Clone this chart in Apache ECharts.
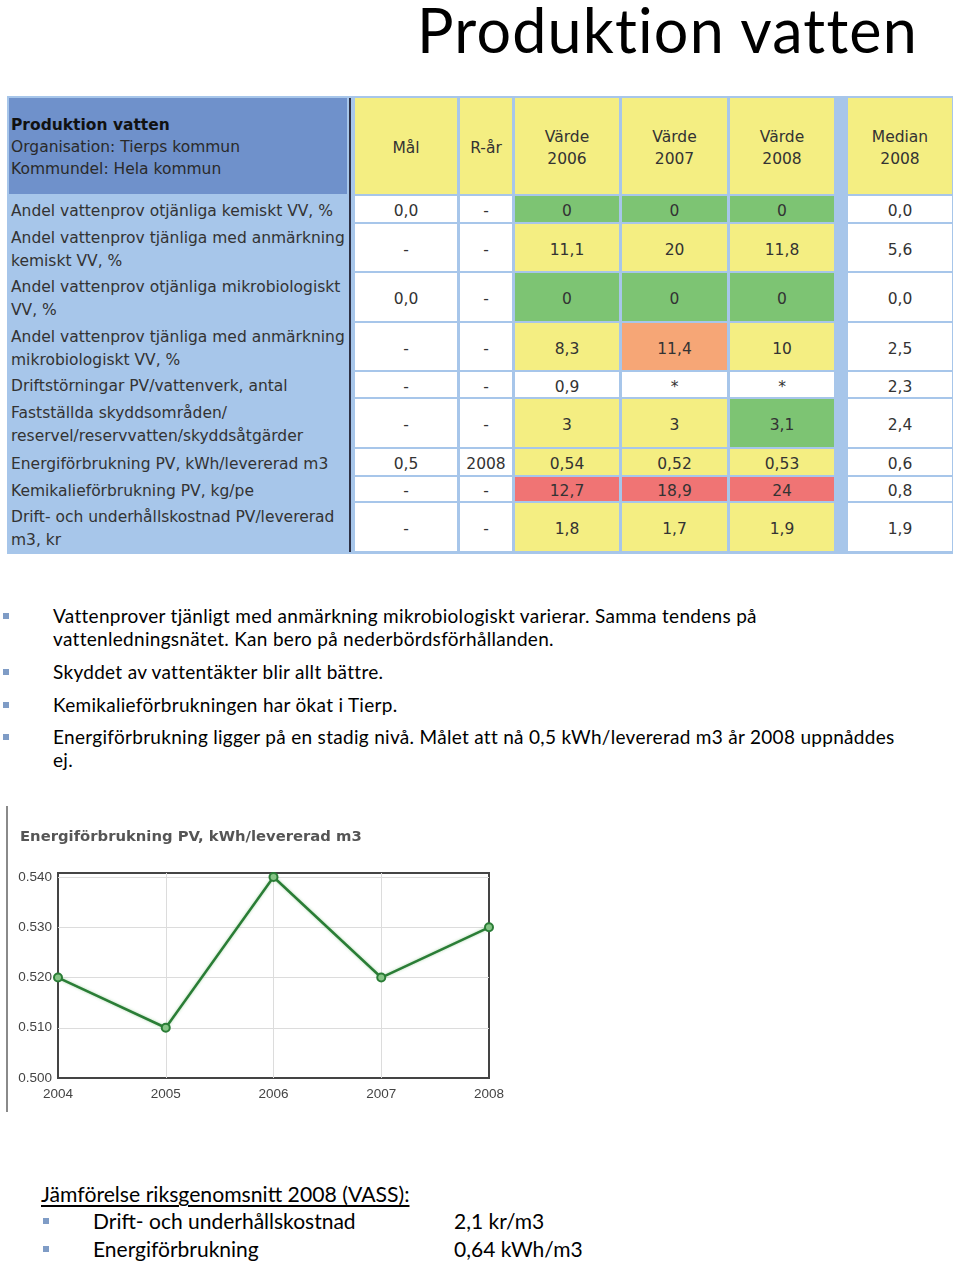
<!DOCTYPE html>
<html>
<head>
<meta charset="utf-8">
<script src="https://cdn.jsdelivr.net/npm/echarts@6/dist/echarts.min.js"></script>
<style>
  body { margin: 0; width: 960px; height: 1262px; overflow: hidden; background: #fff; position: relative; }
  .abs { position: absolute; white-space: pre; }
  .tbl { font-family: "DejaVu Sans", sans-serif; font-size: 15.5px; color: #333; }
  .cal { font-family: Lato, "Open Sans", sans-serif; color: #000; }
</style>
</head>
<body>
<div id="page"></div>
<div id="chartWrap" style="position:absolute;left:0;top:800px;width:520px;height:320px;"></div>
<div style="position:absolute;left:6px;top:806px;width:2px;height:306px;background:#8a8a8a;"></div>

<script>
// --- table data ---
const rowLabels = [
  'Andel vattenprov otjänliga kemiskt VV, %',
  'Andel vattenprov tjänliga med anmärkning\nkemiskt VV, %',
  'Andel vattenprov otjänliga mikrobiologiskt\nVV, %',
  'Andel vattenprov tjänliga med anmärkning\nmikrobiologiskt VV, %',
  'Driftstörningar PV/vattenverk, antal',
  'Fastställda skyddsområden/\nreservel/reservvatten/skyddsåtgärder',
  'Energiförbrukning PV, kWh/levererad m3',
  'Kemikalieförbrukning PV, kg/pe',
  'Drift- och underhållskostnad PV/levererad\nm3, kr'
];
const headers = ['Mål', 'R-år', 'Värde\n2006', 'Värde\n2007', 'Värde\n2008', 'Median\n2008'];
const goal = ['0,0', '-', '0,0', '-', '-', '-', '0,5', '-', '-'];
const refYear = ['-', '-', '-', '-', '-', '-', '2008', '-', '-'];
const value2006 = ['0', '11,1', '0', '8,3', '0,9', '3', '0,54', '12,7', '1,8'];
const value2007 = ['0', '20', '0', '11,4', '*', '3', '0,52', '18,9', '1,7'];
const value2008 = ['0', '11,8', '0', '10', '*', '3,1', '0,53', '24', '1,9'];
const median2008 = ['0,0', '5,6', '0,0', '2,5', '2,3', '2,4', '0,6', '0,8', '1,9'];
const status2006 = ['g', 'y', 'g', 'y', 'w', 'y', 'y', 'r', 'y'];
const status2007 = ['g', 'y', 'g', 'o', 'w', 'y', 'y', 'r', 'y'];
const status2008 = ['g', 'y', 'g', 'y', 'w', 'g', 'y', 'r', 'y'];

// --- chart data ---
const years = ['2004', '2005', '2006', '2007', '2008'];
const energy = [0.52, 0.51, 0.54, 0.52, 0.53];
const yTicks = [0.5, 0.51, 0.52, 0.53, 0.54];

// --- text ---
const bullets = [
  'Vattenprover tjänligt med anmärkning mikrobiologiskt varierar. Samma tendens på\nvattenledningsnätet. Kan bero på nederbördsförhållanden.',
  'Skyddet av vattentäkter blir allt bättre.',
  'Kemikalieförbrukningen har ökat i Tierp.',
  'Energiförbrukning ligger på en stadig nivå. Målet att nå 0,5 kWh/levererad m3 år 2008 uppnåddes\nej.'
];
const compareItems = ['Drift- och underhållskostnad', 'Energiförbrukning'];
const compareValues = ['2,1 kr/m3', '0,64 kWh/m3'];

// layout
const page = document.getElementById('page');
const fill = { g: '#7dc473', y: '#f4ee82', o: '#f6a676', r: '#f07474', w: '#ffffff' };
const rowsY = [[196, 222], [224, 271], [273, 321], [323, 370], [372, 397], [399, 447], [449, 475], [477, 501], [503, 551]];
const colsX = [[355, 457], [460, 512], [515, 619], [622, 727], [730, 834], [848, 952]];

function box(x, y, w, h, bg) {
  const d = document.createElement('div');
  d.className = 'abs';
  d.style.cssText += `left:${x}px;top:${y}px;width:${w}px;height:${h}px;background:${bg};`;
  page.appendChild(d);
  return d;
}
function text(str, x, y, cls, style) {
  const d = document.createElement('div');
  d.className = 'abs ' + cls;
  d.textContent = str;
  d.style.cssText += `left:${x}px;top:${y}px;` + (style || '');
  page.appendChild(d);
  return d;
}
function cellText(str, x0, x1, y0, y1, lh) {
  const d = box(x0, y0 + 2, x1 - x0, y1 - y0, 'transparent');
  d.className = 'abs tbl';
  d.style.display = 'flex';
  d.style.alignItems = 'center';
  d.style.justifyContent = 'center';
  d.style.textAlign = 'center';
  d.style.lineHeight = lh + 'px';
  d.textContent = str;
}

// title
text('Produktion vatten', 0, 2, 'cal', 'width:918px;text-align:right;font-size:61px;line-height:56px;letter-spacing:1.2px;');

// table frame
box(7, 96, 946, 458, '#a7c6ea');
box(9, 98, 338, 96, '#6f91cb');
box(349, 98, 2, 454, '#2c2f44');
text('Produktion vatten', 11, 114, 'tbl', 'font-weight:bold;color:#111;line-height:22px;');
text('Organisation: Tierps kommun\nKommundel: Hela kommun', 11, 136, 'tbl', 'line-height:22px;color:#2a2a2a;');

colsX.forEach(([x0, x1], c) => {
  box(x0, 98, x1 - x0, 96, '#f4ee82');
  cellText(headers[c], x0, x1, 98, 194, 22);
});

const columns = [goal, refYear, value2006, value2007, value2008, median2008];
const statuses = [null, null, status2006, status2007, status2008, null];
rowsY.forEach(([y0, y1], r) => {
  colsX.forEach(([x0, x1], c) => {
    const st = statuses[c] ? statuses[c][r] : 'w';
    box(x0, y0, x1 - x0, y1 - y0, fill[st]);
    cellText(columns[c][r], x0, x1, y0, y1, 22);
  });
  const lab = document.createElement('div');
  lab.className = 'abs tbl';
  lab.style.cssText += `left:11px;top:${y0 + 2}px;width:338px;height:${y1 - y0}px;display:flex;align-items:center;line-height:23px;`;
  lab.textContent = rowLabels[r];
  page.appendChild(lab);
});

// bullet list
const bulletY = [605, 661, 694, 726];
bullets.forEach((b, i) => {
  box(3, bulletY[i] + 8, 6, 6, '#7f9cc6');
  text(b, 53, bulletY[i], 'cal', 'font-size:19px;line-height:22.5px;letter-spacing:0.3px;');
});

// comparison
text('Jämförelse riksgenomsnitt 2008 (VASS):', 41, 1181, 'cal', 'font-size:21.2px;line-height:26px;text-decoration:underline;text-underline-offset:3px;');
compareItems.forEach((t, i) => {
  const y = 1208 + i * 28;
  box(43, y + 10, 6, 6, '#7f9cc6');
  text(t, 93, y, 'cal', 'font-size:21px;line-height:26px;');
  text(compareValues[i], 454, y, 'cal', 'font-size:21px;line-height:26px;');
});

// line chart
const chart = echarts.init(document.getElementById('chartWrap'));
const option = {
  animation: false,
  title: {
    text: 'Energiförbrukning PV, kWh/levererad m3',
    left: 20,
    top: 30,
    padding: 0,
    textStyle: { fontFamily: 'DejaVu Sans', fontSize: 14.8, fontWeight: 'bold', color: '#555' }
  },
  grid: {
    left: 58, right: 31, top: 73, bottom: 42,
    show: true, borderColor: '#444', borderWidth: 2,
    outerBoundsMode: 'none'
  },
  xAxis: {
    type: 'category',
    data: years,
    boundaryGap: false,
    axisLine: { show: false },
    axisTick: { show: false },
    axisLabel: { margin: 9, fontFamily: 'Liberation Sans', fontSize: 13.5, color: '#444' },
    splitLine: { show: true, showMinLine: false, showMaxLine: false, lineStyle: { color: '#dcdcdc', width: 1 } }
  },
  yAxis: {
    type: 'value',
    min: yTicks[0],
    max: 0.5408,
    interval: 0.01,
    axisLine: { show: false },
    axisTick: { show: false },
    axisLabel: {
      margin: 6, showMaxLabel: false,
      fontFamily: 'Liberation Sans', fontSize: 13.5, color: '#444',
      formatter: v => v.toFixed(3)
    },
    splitLine: { show: true, showMinLine: false, showMaxLine: false, lineStyle: { color: '#dcdcdc', width: 1 } }
  },
  series: [{
    type: 'line',
    data: energy,
    symbol: 'circle',
    symbolSize: 8,
    lineStyle: { color: '#2a7d36', width: 2.5, shadowColor: 'rgba(80,170,80,0.45)', shadowBlur: 3 },
    itemStyle: { color: '#86c586', borderColor: '#2a7d36', borderWidth: 2 }
  }]
};
chart.setOption(option);
</script>
</body>
</html>
